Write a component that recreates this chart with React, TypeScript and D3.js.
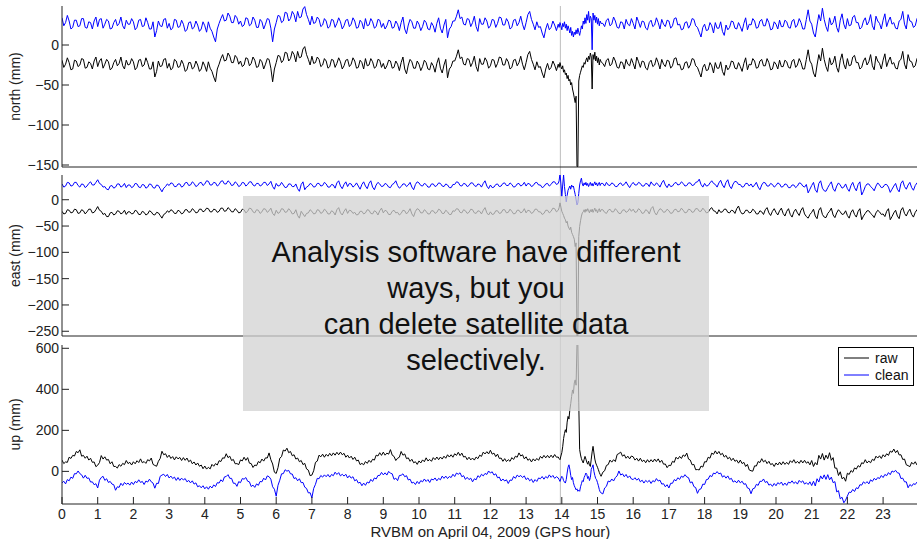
import React, { useEffect, useRef } from "react";
import * as d3 from "d3";

// sample times (GPS hour): 0.05 h steps, denser around the 14h event
const hours: number[] = [];
for (let i = 0; i <= 277; i++) hours.push(i * 0.05);
for (let j = 0; j <= 48; j++) hours.push(13.9 + j * 0.025);
for (let i = 303; i <= 480; i++) hours.push(i * 0.05);

const xTicks = d3.range(0, 24);
const northTicks = [0, -50, -100, -150];
const eastTicks = [0, -50, -100, -150, -200, -250];
const upTicks = [0, 200, 400, 600];
const markerHour = 13.96;
const noteLines = ["Analysis software have different", "ways, but you", "can delete satellite data", "selectively."];
const legendItems = ["raw", "clean"];

// north (mm) - one row per hour, 13.9-15.1 at 0.025 h
const northRaw = [
  -19, -28, -24, -16, -22, -31, -30, -19, -20, -27, -25, -17, -18, -29, -28, -21, -23, -30, -20, -15,
  -27, -20, -17, -29, -24, -18, -21, -31, -29, -22, -18, -26, -23, -15, -26, -30, -19, -25, -24, -17,
  -21, -31, -28, -19, -18, -27, -25, -16, -22, -30, -30, -21, -40, -33, -20, -27, -26, -18, -17, -29,
  -23, -31, -29, -18, -20, -28, -27, -19, -24, -33, -31, -22, -22, -30, -28, -20, -25, -33, -30, -21,
  -26, -33, -21, -29, -33, -40, -46, -30, -24, -17, -12, -20, -19, -10, -14, -22, -22, -13, -16, -24,
  -20, -27, -25, -16, -17, -26, -23, -15, -19, -28, -27, -18, -21, -30, -24, -17, -18, -29, -46, -30,
  -22, -13, -14, -22, -19, -9, -10, -20, -17, -8, -12, -21, -8, -16, -15, -5, -2, -12, -18, -25,
  -14, -23, -22, -15, -18, -27, -25, -17, -20, -29, -27, -18, -19, -28, -23, -16, -21, -30, -26, -19,
  -18, -27, -24, -16, -20, -29, -28, -19, -22, -30, -17, -26, -25, -17, -21, -29, -27, -18, -19, -28,
  -23, -30, -26, -19, -20, -29, -28, -20, -24, -32, -22, -15, -30, -36, -25, -18, -21, -29, -29, -20,
  -24, -32, -27, -19, -22, -30, -31, -22, -26, -34, -23, -16, -29, -35, -25, -18, -41, -30, -27, -20,
  -20, -14, -6, -17, -15, -24, -25, -17, -18, -27, -22, -14, -27, -33, -17, -24, -24, -16, -20, -29,
  -26, -18, -19, -28, -23, -15, -16, -25, -25, -17, -21, -30, -28, -19, -18, -26, -22, -14, -24, -31,
  -22, -12, -8, -18, -24, -31, -21, -28, -27, -35, -41, -30, -23, -31, -28, -20, -25, -32,
  -24, -28, -22, -27, -30, -26, -34, -31, -37, -35,
  -42, -38, -45, -43, -50, -47, -55, -60, -66, -72,
  -64, -152, -152, -45, -38, -34, -30, -26, -28, -22,
  -24, -19, -16, -21, -14, -18, -10, -15, -55, -12,
  -18, -9, -20, -14, -22, -16, -25, -18, -21,
  -23, -27, -19, -17, -26, -24, -15, -20, -28, -29, -21, -22, -30, -18, -24, -26, -17,
  -23, -30, -15, -21, -28, -20, -21, -29, -31, -22, -19, -27, -25, -16, -22, -30, -18, -24, -27, -19,
  -20, -29, -26, -17, -16, -25, -24, -31, -30, -22, -21, -29, -25, -17, -18, -26, -28, -34, -40, -28,
  -24, -32, -31, -22, -26, -35, -22, -29, -29, -21, -33, -38, -25, -31, -28, -20, -21, -29, -30, -22,
  -27, -33, -23, -16, -31, -24, -25, -17, -20, -29, -28, -20, -18, -26, -26, -17, -22, -31, -30, -21,
  -24, -30, -19, -27, -27, -19, -21, -28, -29, -20, -18, -28, -25, -17, -22, -30, -30, -18, -6, -20,
  -24, -35, -40, -25, -12, -20, -4, -18, -27, -33, -16, -25, -22, -14, -28, -34, -19, -11, -24, -30,
  -17, -26, -25, -15, -13, -22, -22, -30, -28, -20, -16, -25, -21, -12, -26, -31, -14, -20, -23, -30,
  -19, -11, -27, -20, -15, -24, -22, -29, -30, -20, -18, -8, -24, -30, -12, -20, -21, -28, -26, -17,
  -20,
];
const northClean = [
  34, 24, 28, 37, 30, 20, 22, 31, 31, 23, 24, 33, 33, 22, 21, 29, 28, 20, 30, 35,
  23, 32, 33, 21, 26, 32, 30, 20, 21, 28, 32, 24, 27, 35, 24, 20, 31, 26, 26, 33,
  29, 19, 22, 31, 32, 23, 24, 34, 28, 20, 20, 29, 10, 18, 30, 24, 23, 32, 33, 21,
  27, 19, 21, 32, 31, 22, 23, 31, 26, 17, 19, 28, 29, 20, 22, 30, 25, 17, 20, 29,
  24, 16, 29, 21, 17, 10, 4, 20, 27, 33, 38, 30, 31, 40, 36, 28, 28, 37, 34, 26,
  30, 23, 25, 34, 33, 24, 26, 35, 31, 22, 22, 32, 29, 20, 26, 33, 32, 21, 4, 20,
  28, 37, 36, 28, 30, 41, 40, 30, 33, 42, 38, 29, 42, 34, 35, 45, 48, 38, 32, 25,
  36, 27, 28, 35, 32, 23, 25, 33, 30, 21, 23, 32, 31, 22, 27, 34, 29, 20, 24, 31,
  32, 23, 26, 34, 30, 21, 22, 31, 28, 20, 33, 24, 25, 33, 29, 21, 23, 32, 31, 22,
  27, 20, 24, 31, 30, 21, 22, 30, 26, 18, 28, 35, 20, 14, 25, 32, 29, 21, 21, 30,
  26, 18, 23, 31, 28, 20, 19, 28, 24, 16, 27, 34, 21, 15, 25, 32, 9, 20, 23, 30,
  30, 36, 44, 33, 35, 26, 25, 33, 32, 23, 28, 36, 23, 17, 33, 26, 26, 34, 30, 21,
  24, 32, 31, 22, 27, 35, 34, 25, 25, 33, 29, 20, 22, 31, 32, 24, 28, 36, 26, 19,
  28, 38, 42, 32, 26, 19, 29, 22, 23, 15, 9, 20, 27, 19, 22, 30, 25, 18,
  26, 22, 28, 24, 19, 27, 23, 29, 21, 26,
  18, 24, 20, 15, 22, 12, 17, 10, 16, 13,
  19, 14, 21, 16, 12, 18, 24, 20, 30, 26,
  34, 27, 38, 31, 42, 28, 36, 33, -6, 40,
  31, 37, 28, 35, 26, 33, 24, 30, 27,
  27, 23, 31, 33, 24, 26, 35, 30, 22, 21, 29, 28, 20, 32, 26, 24, 33,
  27, 20, 35, 29, 22, 30, 29, 21, 19, 28, 31, 23, 25, 34, 28, 20, 32, 26, 23, 31,
  30, 21, 24, 33, 34, 25, 26, 19, 20, 28, 29, 21, 25, 33, 32, 24, 22, 16, 10, 22,
  26, 18, 19, 28, 24, 15, 28, 21, 21, 29, 17, 12, 25, 19, 22, 30, 29, 21, 20, 28,
  23, 17, 27, 34, 19, 26, 25, 33, 30, 21, 22, 30, 32, 24, 24, 33, 28, 19, 20, 29,
  26, 20, 31, 23, 23, 31, 29, 22, 21, 30, 32, 22, 25, 33, 28, 20, 20, 32, 44, 30,
  26, 15, 10, 25, 38, 30, 46, 32, 23, 17, 34, 25, 28, 36, 22, 16, 31, 39, 26, 20,
  33, 24, 25, 35, 37, 28, 28, 20, 22, 30, 34, 25, 29, 38, 24, 19, 36, 30, 27, 20,
  31, 39, 23, 30, 35, 26, 28, 21, 20, 30, 32, 42, 26, 20, 38, 30, 29, 22, 24, 33,
  30,
];

// east (mm)
const eastRaw = [
  -22, -27, -26, -19, -20, -25, -24, -18, -19, -26, -25, -19, -21, -27, -23, -18, -18, -25, -24, -19,
  -13, -20, -22, -28, -26, -32, -32, -25, -24, -29, -27, -21, -22, -27, -25, -20, -28, -23, -23, -27,
  -26, -20, -22, -28, -28, -22, -24, -29, -27, -21, -23, -28, -29, -24, -25, -30, -35, -28, -26, -21,
  -24, -19, -21, -26, -26, -20, -22, -27, -25, -19, -19, -24, -23, -17, -20, -25, -24, -18, -18, -23,
  -21, -16, -17, -23, -23, -18, -19, -24, -22, -16, -16, -22, -21, -15, -18, -23, -23, -17, -20, -25,
  -24, -18, -19, -25, -22, -16, -17, -23, -25, -19, -20, -26, -23, -17, -18, -24, -21, -16, -26, -30,
  -20, -26, -24, -17, -18, -24, -23, -17, -21, -27, -26, -19, -30, -35, -22, -27, -32, -26, -25, -19,
  -22, -27, -26, -19, -20, -26, -24, -18, -21, -27, -27, -21, -23, -29, -19, -15, -25, -29, -22, -17,
  -26, -20, -21, -26, -24, -29, -28, -22, -22, -27, -25, -19, -20, -26, -27, -21, -23, -29, -21, -16,
  -25, -20, -22, -28, -28, -22, -20, -25, -24, -29, -26, -20, -21, -27, -23, -17, -27, -32, -22, -17,
  -19, -25, -25, -19, -22, -27, -27, -21, -21, -26, -24, -18, -20, -26, -26, -20, -23, -28, -28, -21,
  -22, -17, -18, -24, -25, -19, -21, -26, -24, -18, -19, -25, -26, -21, -22, -27, -20, -15, -25, -29,
  -23, -28, -27, -21, -21, -26, -25, -19, -19, -25, -24, -18, -22, -27, -26, -20, -20, -25, -23, -17,
  -25, -20, -21, -26, -24, -18, -18, -23, -23, -28, -26, -20, -20, -25, -22, -16, -17, -23,
  -20, -15, -6, -14, -22, -26, -30, -35, -38, -44,
  -41, -50, -54, -57, -52, -62, -66, -70, -75, -89,
  -82, -259, -259, -70, -51, -40, -31, -25, -23, -19,
  -24, -18, -22, -17, -21, -25, -19, -23, -18, -24,
  -20, -16, -22, -19, -25, -20, -17, -23, -19,
  -19, -24, -26, -20, -18, -23, -23, -17, -21, -26, -26, -20, -19, -24, -22, -17, -22,
  -18, -24, -23, -17, -20, -26, -25, -19, -21, -27, -17, -13, -24, -29, -22, -17, -19, -24, -23, -18,
  -21, -26, -25, -19, -18, -23, -22, -16, -20, -25, -24, -18, -19, -24, -23, -17, -17, -22, -22, -16,
  -20, -25, -24, -18, -15, -21, -22, -27, -19, -24, -23, -18, -18, -24, -25, -20, -21, -26, -17, -12,
  -22, -27, -26, -20, -20, -25, -24, -18, -21, -27, -27, -21, -23, -28, -19, -15, -25, -30, -22, -17,
  -24, -29, -21, -16, -26, -31, -22, -17, -28, -33, -23, -18, -25, -30, -20, -15, -27, -32, -35, -28,
  -24, -18, -31, -36, -20, -15, -28, -33, -34, -26, -22, -16, -29, -34, -25, -19, -23, -28, -27, -21,
  -30, -35, -24, -19, -28, -33, -22, -17, -38, -31, -26, -21, -21, -26, -29, -34, -25, -20, -23, -28,
  -27, -32, -22, -17, -38, -32, -25, -20, -31, -36, -20, -15, -26, -31, -23, -18, -28, -33, -24, -19,
  -25,
];
const eastClean = [
  30, 24, 26, 33, 32, 26, 27, 33, 33, 27, 24, 30, 29, 23, 26, 31, 34, 28, 28, 33,
  38, 31, 29, 24, 25, 20, 19, 26, 27, 22, 24, 30, 30, 24, 26, 31, 23, 28, 28, 23,
  25, 31, 30, 24, 23, 29, 28, 22, 24, 30, 29, 23, 22, 28, 27, 21, 15, 22, 25, 30,
  27, 32, 31, 25, 25, 30, 30, 24, 26, 32, 33, 27, 28, 34, 31, 25, 27, 32, 33, 27,
  30, 36, 35, 28, 28, 33, 32, 26, 29, 35, 36, 30, 30, 36, 33, 27, 28, 34, 31, 25,
  27, 33, 32, 26, 29, 34, 34, 28, 26, 31, 31, 26, 28, 33, 33, 27, 30, 35, 25, 20,
  31, 26, 27, 33, 28, 23, 24, 30, 30, 25, 25, 30, 21, 16, 29, 34, 19, 24, 26, 31,
  29, 24, 25, 31, 31, 26, 27, 33, 30, 24, 24, 29, 28, 22, 32, 36, 26, 21, 29, 34,
  25, 31, 30, 24, 27, 32, 26, 20, 29, 34, 26, 21, 31, 36, 24, 19, 28, 33, 30, 25,
  26, 31, 29, 24, 23, 29, 31, 36, 27, 22, 25, 30, 30, 25, 28, 33, 24, 19, 29, 34,
  32, 27, 26, 31, 29, 24, 24, 30, 30, 25, 27, 32, 31, 26, 25, 30, 28, 23, 23, 29,
  29, 34, 33, 27, 26, 31, 30, 25, 27, 32, 32, 27, 25, 30, 29, 24, 31, 36, 26, 21,
  28, 23, 24, 29, 30, 25, 26, 31, 32, 27, 27, 32, 29, 24, 25, 30, 31, 26, 28, 33,
  26, 31, 30, 25, 27, 32, 33, 28, 28, 23, 25, 30, 31, 26, 29, 34, 34, 29,
  31, 36, 50, 30, 6, 28, 47, 25, 10, -4,
  8, 18, 22, 26, 20, 28, 24, 26, 18, 10,
  0, -10, -6, 12, 28, 36, 41, 30, 26, 32,
  28, 33, 27, 31, 25, 29, 33, 27, 31, 26,
  30, 34, 28, 32, 26, 30, 33, 27, 31,
  31, 26, 33, 28, 27, 32, 30, 25, 25, 30, 32, 27, 29, 34, 28, 23, 29,
  33, 28, 28, 33, 31, 26, 26, 31, 30, 25, 34, 29, 27, 32, 29, 24, 32, 37, 28, 23,
  30, 25, 26, 31, 33, 28, 29, 34, 31, 26, 27, 32, 32, 27, 28, 33, 34, 39, 29, 24,
  31, 26, 27, 32, 36, 31, 29, 24, 32, 37, 28, 23, 33, 38, 26, 21, 30, 35, 34, 29,
  29, 24, 25, 31, 31, 26, 30, 24, 28, 33, 24, 19, 28, 33, 32, 26, 26, 31, 29, 24,
  27, 32, 30, 24, 25, 30, 29, 23, 23, 28, 28, 23, 26, 32, 31, 26, 24, 29, 13, 20,
  27, 33, 19, 14, 31, 36, 22, 17, 16, 23, 29, 34, 21, 16, 26, 32, 28, 22, 24, 30,
  21, 16, 27, 33, 23, 17, 29, 34, 9, 16, 25, 30, 30, 25, 22, 17, 26, 32, 28, 23,
  24, 29, 29, 24, 14, 20, 26, 31, 20, 15, 31, 36, 25, 20, 28, 33, 23, 18, 27, 32,
  26,
];

// up (mm)
const upRaw = [
  55, 38, 46, 44, 69, 63, 78, 75, 97, 91, 105, 74, 78, 64, 74, 55, 64, 44, 46, 23,
  30, 43, 77, 60, 71, 55, 58, 37, 47, 24, 24, 16, 33, 25, 39, 33, 53, 38, 44, 31,
  47, 37, 52, 43, 61, 42, 48, 39, 57, 51, 65, 34, 29, 25, 49, 63, 98, 81, 86, 68,
  79, 63, 72, 56, 71, 61, 68, 53, 67, 54, 65, 47, 55, 37, 46, 31, 41, 25, 31, 13,
  26, 11, 20, 12, 34, 25, 38, 31, 52, 48, 66, 64, 86, 67, 74, 53, 58, 37, 38, 33,
  56, 51, 69, 54, 67, 40, 38, 19, 31, 28, 48, 42, 60, 50, 66, 65, 90, 57, 36, -4,
  -10, 18, 64, 72, 104, 99, 113, 91, 97, 76, 81, 60, 65, 47, 53, 33, 39, 12, 6, -21,
  -18, 3, 44, 50, 79, 71, 84, 69, 83, 74, 88, 76, 90, 79, 93, 81, 94, 81, 88, 69,
  79, 65, 74, 58, 69, 51, 55, 33, 39, 32, 48, 39, 54, 44, 59, 55, 79, 75, 91, 78,
  94, 79, 89, 84, 106, 79, 73, 53, 64, 69, 97, 79, 85, 62, 66, 49, 59, 42, 47, 34,
  51, 41, 56, 47, 66, 51, 58, 49, 67, 57, 70, 57, 70, 60, 74, 64, 81, 70, 81, 69,
  86, 78, 93, 77, 89, 70, 73, 57, 69, 56, 65, 55, 70, 62, 79, 73, 94, 85, 96, 85,
  103, 84, 89, 72, 84, 63, 65, 49, 62, 48, 57, 49, 67, 58, 74, 69, 90, 75, 81, 61,
  71, 54, 61, 46, 61, 51, 63, 54, 73, 64, 78, 66, 78, 66, 79, 67, 82, 69,
  70, 62, 57, 75, 91, 120, 160, 185, 203, 190,
  240, 268, 255, 300, 330, 365, 397, 380, 431, 446,
  420, 620, 620, 334, 106, 80, 62, 50, 41, 58,
  73, 60, 45, 35, 50, 30, 24, 60, 95, 122,
  90, 60, 41, 30, 20, 8, -5, -15, -24,
  -4, 3, 29, 33, 55, 45, 57, 48, 82, 87, 94, 74, 81, 64, 74, 61, 75,
  71, 55, 64, 50, 64, 48, 55, 42, 57, 45, 57, 46, 60, 48, 61, 44, 54, 35, 36, 18,
  30, 28, 49, 44, 69, 60, 73, 63, 80, 73, 89, 60, 55, 32, 34, 8, 9, 7, 26, 21,
  47, 46, 69, 64, 89, 83, 100, 85, 97, 81, 88, 70, 78, 61, 69, 53, 64, 49, 55, 40,
  55, 38, 44, 24, 34, 7, 3, 1, 27, 26, 48, 43, 62, 46, 54, 38, 49, 33, 38, 24,
  41, 31, 45, 32, 47, 34, 44, 34, 52, 43, 57, 40, 49, 39, 54, 41, 54, 40, 47, 32,
  53, 24, 43, 32, 78, 60, 87, 55, 79, 62, 91, 54, 67, 16, 16, -20, -2, -36, -29, -48,
  -9, -15, 4, -4, 17, 11, 28, 21, 42, 38, 57, 41, 50, 42, 59, 53, 74, 65, 76, 63,
  81, 71, 86, 78, 99, 93, 109, 91, 102, 80, 81, 58, 60, 32, 28, 23, 44, 35, 47, 31,
  40,
];
const upClean = [
  -56, -48, -61, -40, -46, -28, -34, -11, -12, 2, -11, -17, -33, -19, -34, -32, -52, -51, -65, -60,
  -81, -43, -30, -24, -44, -36, -54, -49, -62, -65, -92, -75, -78, -58, -69, -54, -63, -57, -67, -52,
  -64, -49, -55, -41, -54, -49, -64, -47, -52, -38, -51, -57, -82, -58, -59, -24, -18, -14, -25, -15,
  -32, -23, -35, -28, -44, -30, -44, -33, -42, -35, -51, -44, -56, -46, -62, -56, -75, -70, -80, -70,
  -85, -75, -87, -72, -81, -66, -74, -55, -57, -41, -50, -27, -25, -16, -34, -34, -58, -58, -73, -50,
  -55, -35, -38, -30, -48, -51, -74, -67, -78, -61, -68, -49, -51, -33, -42, -22, -26, -38, -75, -87,
  -121, -68, -43, -12, -11, 8, 1, 5, -12, -13, -35, -31, -46, -36, -55, -54, -77, -83, -105, -104,
  -129, -83, -63, -34, -36, -20, -28, -17, -26, -15, -28, -15, -21, -4, -15, -6, -22, -14, -23, -14,
  -32, -21, -33, -26, -46, -40, -57, -53, -70, -57, -68, -52, -57, -39, -49, -32, -37, -20, -20, -5,
  -17, -7, -18, 0, -9, -12, -39, -33, -45, -20, -19, -12, -26, -21, -42, -38, -57, -53, -64, -49,
  -60, -45, -51, -37, -49, -40, -54, -37, -42, -32, -46, -34, -41, -23, -34, -23, -35, -25, -30, -14,
  -25, -8, -14, -7, -26, -21, -39, -29, -40, -33, -51, -36, -41, -21, -29, -14, -22, -10, -15, 2,
  -8, -2, -18, -12, -31, -28, -47, -37, -47, -41, -59, -42, -44, -25, -34, -18, -26, -20, -30, -22,
  -40, -32, -46, -38, -54, -40, -49, -32, -36, -25, -38, -25, -33, -17, -29, -20, -34, -26,
  -32, -40, -49, -35, -24, -30, -45, -52, -57, -40,
  -8, 20, 32, 10, -20, -40, -30, -55, -70, -80,
  -90, -85, -97, -92, -97, -75, -60, -45, -50, -30,
  -20, -8, -15, -35, -25, -45, -30, 10, 20, 32,
  0, -20, -35, -41, -55, -70, -88, -100, -105,
  -110, -81, -73, -47, -51, -37, -47, -30, -22, 2, -18, -12, -26, -15, -31, -22, -37,
  -40, -31, -43, -34, -51, -43, -57, -44, -52, -44, -59, -45, -51, -35, -47, -43, -62, -60, -75, -65,
  -81, -58, -58, -40, -46, -31, -39, -23, -29, -16, -27, -31, -56, -51, -74, -79, -107, -88, -85, -62,
  -64, -40, -38, -20, -26, -8, -12, -1, -12, -8, -28, -21, -33, -22, -39, -34, -52, -46, -56, -43,
  -56, -48, -63, -60, -81, -84, -109, -85, -82, -63, -68, -48, -49, -37, -54, -49, -67, -62, -73, -59,
  -70, -55, -62, -52, -68, -57, -68, -52, -57, -46, -59, -51, -62, -44, -54, -46, -62, -55, -64, -51,
  -69, -48, -71, -36, -52, -22, -37, -17, -39, -16, -41, -28, -55, -50, -100, -94, -134, -126, -153, -140,
  -120, -101, -103, -88, -98, -80, -84, -65, -67, -51, -59, -50, -61, -41, -49, -34, -42, -30, -35, -20,
  -30, -15, -21, -6, -16, 2, -3, 5, -7, -9, -35, -33, -51, -51, -80, -64, -72, -60, -64, -52,
  -60,
];

const panels = [
  { id: "north", label: "north (mm)", top: 6, bottom: 167, domain: [-152.5, 48.75], ticks: northTicks, raw: northRaw, clean: northClean },
  { id: "east", label: "east (mm)", top: 175, bottom: 336, domain: [-259, 47], ticks: eastTicks, raw: eastRaw, clean: eastClean },
  { id: "up", label: "up (mm)", top: 345, bottom: 504, domain: [-159, 616], ticks: upTicks, raw: upRaw, clean: upClean },
];

const W = 917, H = 539;
const left = 62, right = 918.8;
const FONT = "'Liberation Sans', Arial, Helvetica, sans-serif";
const fmt = (v: number) => (v < 0 ? "\u2212" + Math.abs(v) : String(v));

export default function App() {
  const ref = useRef<SVGSVGElement>(null);

  useEffect(() => {
    const svg = d3.select(ref.current);
    svg.selectAll("*").remove();
    const x = d3.scaleLinear().domain([0, 24]).range([left, right]);

    svg.append("rect").attr("width", W).attr("height", H).attr("fill", "#fff");

    // marker line across all panels
    svg.append("line")
      .attr("x1", x(markerHour)).attr("x2", x(markerHour))
      .attr("y1", panels[0].top).attr("y2", panels[2].bottom)
      .attr("stroke", "#bdbdbd").attr("stroke-width", 1);

    panels.forEach((p) => {
      const y = d3.scaleLinear().domain(p.domain).range([p.bottom, p.top]);
      const g = svg.append("g");

      const clipId = "clip-" + p.id;
      svg.append("clipPath").attr("id", clipId)
        .append("rect").attr("x", left).attr("y", p.top).attr("width", right - left).attr("height", p.bottom - p.top);

      const line = d3.line<number>()
        .defined((_, i) => i < hours.length)
        .x((_, i) => x(hours[i])).y((d) => y(d));
      const lines = g.append("g").attr("clip-path", `url(#${clipId})`);
      lines.append("path").attr("d", line(p.raw)).attr("fill", "none").attr("stroke", "#000").attr("stroke-width", 1);
      lines.append("path").attr("d", line(p.clean)).attr("fill", "none").attr("stroke", "#0000ff").attr("stroke-width", 1);

      // axes
      g.append("line").attr("x1", left).attr("x2", left).attr("y1", p.top).attr("y2", p.bottom).attr("stroke", "#222");
      g.append("line").attr("x1", left).attr("x2", W).attr("y1", p.bottom).attr("y2", p.bottom).attr("stroke", "#222");

      p.ticks.forEach((t) => {
        g.append("line").attr("x1", left).attr("x2", left + 7).attr("y1", y(t)).attr("y2", y(t)).attr("stroke", "#222");
        g.append("text").attr("x", left - 3).attr("y", y(t)).attr("dy", "0.35em")
          .attr("text-anchor", "end").attr("font-family", FONT).attr("font-size", 14).attr("fill", "#222")
          .text(fmt(t));
      });

      g.append("text")
        .attr("transform", `translate(20,${(p.top + p.bottom) / 2}) rotate(-90)`)
        .attr("text-anchor", "middle").attr("font-family", FONT).attr("font-size", 14).attr("fill", "#222")
        .text(p.label);

      if (p.id === "up") {
        xTicks.forEach((t) => {
          g.append("line").attr("x1", x(t)).attr("x2", x(t)).attr("y1", p.bottom).attr("y2", p.bottom - 7).attr("stroke", "#222");
          g.append("text").attr("x", x(t)).attr("y", 519).attr("text-anchor", "middle")
            .attr("font-family", FONT).attr("font-size", 14).attr("fill", "#222").text(String(t));
        });
        g.append("text").attr("x", (left + right) / 2).attr("y", 536.5).attr("text-anchor", "middle")
          .attr("font-family", FONT).attr("font-size", 15).attr("fill", "#222")
          .text("RVBM on April 04, 2009 (GPS hour)");

        // legend
        const lg = g.append("g");
        lg.append("rect").attr("x", 838.5).attr("y", 347.5).attr("width", 75).attr("height", 38)
          .attr("fill", "#fff").attr("stroke", "#000");
        legendItems.forEach((name, i) => {
          const ly = 358 + i * 17;
          lg.append("line").attr("x1", 844).attr("x2", 869).attr("y1", ly).attr("y2", ly)
            .attr("stroke", i === 0 ? "#000" : "#0000ff");
          lg.append("text").attr("x", 875).attr("y", ly + 5).attr("font-family", FONT).attr("font-size", 14)
            .attr("fill", "#111").text(name);
        });
      }
    });

    // semi-transparent note box
    svg.append("rect").attr("x", 243).attr("y", 196).attr("width", 466).attr("height", 215)
      .attr("fill", "rgb(210,210,210)").attr("fill-opacity", 0.75);
    noteLines.forEach((s, i) => {
      svg.append("text").attr("x", 476).attr("y", 262 + i * 36).attr("text-anchor", "middle")
        .attr("font-family", FONT).attr("font-size", 29).attr("fill", "#111").text(s);
    });
  }, []);

  return (
    <svg ref={ref} width={W} height={H} style={{ position: "absolute", left: 0, top: 0 }} />
  );
}
